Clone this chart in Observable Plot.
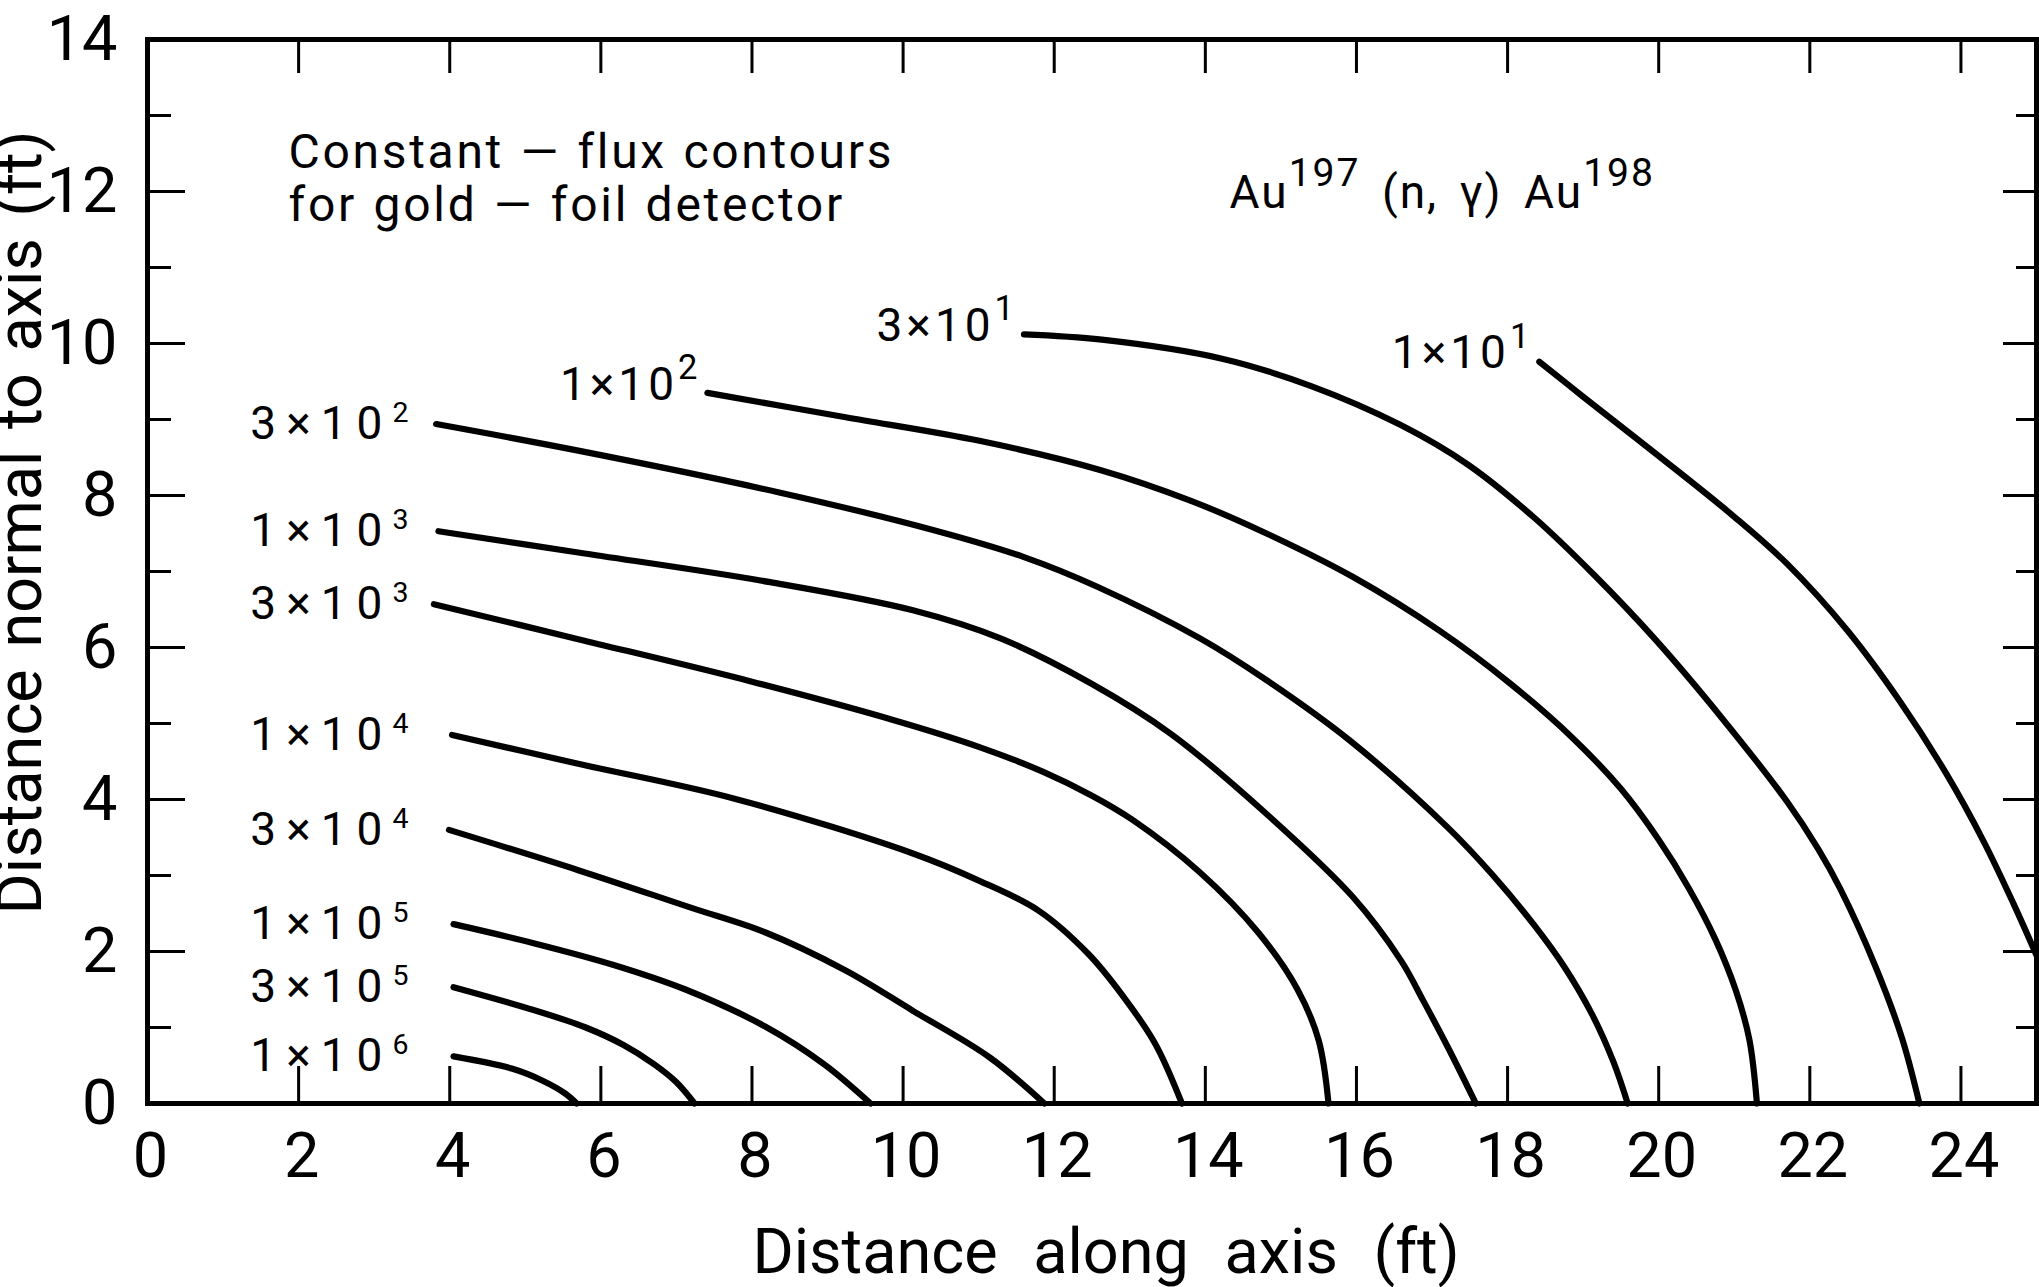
<!DOCTYPE html>
<html>
<head>
<meta charset="utf-8">
<script src="https://cdn.jsdelivr.net/npm/d3@7"></script>
<script src="https://cdn.jsdelivr.net/npm/@observablehq/plot@0.6"></script>
<style>
  html, body { margin: 0; padding: 0; background: #fff; overflow: hidden; }
  #chart svg { display: block; max-width: none; }
</style>
</head>
<body>
<div id="chart"></div>
<script>
// Constant-flux contours, [distance along axis (ft), distance normal to axis (ft)]
const flux_1e1 = [[18.42, 9.76], [19.00, 9.30], [20.00, 8.52], [21.00, 7.72], [21.70, 7.10], [22.50, 6.22],
                  [23.20, 5.28], [23.80, 4.35], [24.30, 3.45], [24.70, 2.62], [25.00, 1.95]];
const flux_3e1 = [[11.60, 10.12], [12.63, 10.05], [14.22, 9.80], [15.40, 9.44], [16.58, 8.93], [17.47, 8.41],
                  [18.35, 7.71], [19.15, 6.95], [19.96, 6.10], [20.83, 5.08], [21.70, 3.97], [22.11, 3.35],
                  [22.40, 2.83], [22.87, 1.80], [23.22, 0.86], [23.45, 0]];
const flux_1e2 = [[7.41, 9.35], [9.24, 9.03], [11.01, 8.72], [12.63, 8.33], [13.81, 7.93], [14.81, 7.50],
                  [15.95, 6.93], [17.10, 6.22], [18.03, 5.53], [18.85, 4.82], [19.50, 4.14], [20.00, 3.47],
                  [20.40, 2.83], [20.75, 2.16], [21.02, 1.49], [21.20, 0.84], [21.30, 0]];
const flux_3e2 = [[3.82, 8.94], [5.70, 8.59], [8.36, 8.04], [10.42, 7.54], [11.60, 7.19], [12.57, 6.80],
                  [13.93, 6.12], [14.81, 5.57], [15.92, 4.77], [17.20, 3.64], [17.80, 3.01], [18.35, 2.35],
                  [18.75, 1.80], [19.12, 1.17], [19.40, 0.55], [19.59, 0]];
const flux_1e3 = [[3.85, 7.53], [5.70, 7.25], [8.24, 6.86], [10.13, 6.49], [11.29, 6.12], [12.50, 5.52],
                  [13.55, 4.86], [14.81, 3.81], [15.95, 2.72], [16.59, 1.88], [16.88, 1.36], [17.22, 0.72],
                  [17.58, 0]];
const flux_3e3 = [[3.79, 6.57], [5.70, 6.11], [8.00, 5.55], [9.89, 5.04], [11.01, 4.69], [11.84, 4.37],
                  [12.50, 4.05], [13.04, 3.73], [13.93, 3.04], [14.70, 2.25], [15.22, 1.50], [15.50, 0.83],
                  [15.63, 0]];
const flux_1e4 = [[4.03, 4.85], [5.70, 4.47], [7.77, 4.01], [10.13, 3.29], [11.01, 2.93], [11.79, 2.54],
                  [12.45, 1.97], [12.92, 1.40], [13.34, 0.78], [13.69, 0]];
const flux_3e4 = [[3.99, 3.60], [5.70, 3.07], [7.18, 2.58], [8.18, 2.25], [9.24, 1.75], [10.13, 1.22],
                  [11.14, 0.61], [11.87, 0]];
const flux_1e5 = [[4.05, 2.36], [5.11, 2.11], [6.18, 1.82], [7.12, 1.50], [8.18, 1.01], [8.95, 0.52], [9.57, 0]];
const flux_3e5 = [[4.05, 1.53], [5.11, 1.23], [5.80, 1.00], [6.30, 0.77], [6.70, 0.52], [7.00, 0.28], [7.24, 0]];
const flux_1e6 = [[4.05, 0.62], [4.82, 0.46], [5.23, 0.30], [5.53, 0.13], [5.68, 0]];

const fluxLevels = [1e1, 3e1, 1e2, 3e2, 1e3, 3e3, 1e4, 3e4, 1e5, 3e5, 1e6];
const contourPoints = [flux_1e1, flux_3e1, flux_1e2, flux_3e2, flux_1e3, flux_3e3,
                       flux_1e4, flux_3e4, flux_1e5, flux_3e5, flux_1e6];

const xTickValues = [0, 2, 4, 6, 8, 10, 12, 14, 16, 18, 20, 22, 24];
const yTickValues = [0, 2, 4, 6, 8, 10, 12, 14];
const yMinorTicks = [1, 3, 5, 7, 9, 11, 13];

const xTitle = "Distance along axis (ft)";
const yTitle = "Distance normal to axis (ft)";
const noteLines = ["Constant — flux contours", "for gold — foil detector"];
const reaction = "Au¹⁹⁷ (n, γ) Au¹⁹⁸";

// Layout
const width = 2039, height = 1287;
const marginLeft = 147, marginRight = 3, marginTop = 39, marginBottom = 184;
const frameW = width - marginLeft - marginRight;
const frameH = height - marginTop - marginBottom;
const FONT = "Roboto, 'Noto Sans', 'DejaVu Sans', sans-serif";

// Superscript helpers
const SUP = "⁰¹²³⁴⁵⁶⁷⁸⁹";
const SUP_RE = /[\u2070\u00B9\u00B2\u00B3\u2074-\u2079]/;
const sup = n => String(n).split("").map(d => SUP[+d]).join("");
function fluxLabel(v) {
  const e = Math.floor(Math.log10(v) + 1e-9);
  const m = Math.round(v / 10 ** e);
  return `${m}×10${sup(e)}`;
}

// Long-format table for the line mark, and the first point of each contour for its label
const rows = [];
fluxLevels.forEach((v, i) => contourPoints[i].forEach(([x, y]) => rows.push({flux: v, x, y})));
const starts = fluxLevels.map((v, i) => ({flux: v, label: fluxLabel(v), x: contourPoints[i][0][0], y: contourPoints[i][0][1]}));
const columnLabels = starts.filter(d => d.x < 5);   // labels stacked in a column at the left
const inlineLabels = starts.filter(d => d.x >= 5);  // labels placed just before the contour start

const chart = Plot.plot({
  width, height, marginLeft, marginRight, marginTop, marginBottom,
  x: {domain: [0, 25], axis: null},
  y: {domain: [0, 14], axis: null},
  style: {fontFamily: FONT, color: "black", background: "white", overflow: "visible"},
  marks: [
    Plot.line(rows, {x: "x", y: "y", z: "flux", curve: "catmull-rom", stroke: "black",
                     strokeWidth: 6.2, strokeLinecap: "round", strokeLinejoin: "round"}),
    Plot.frame({stroke: "black", strokeWidth: 5}),
    // inward ticks on all four sides
    Plot.ruleX(xTickValues.filter(d => d > 0), {x: d => d, stroke: "black", strokeWidth: 3, insetTop: frameH - 37}),
    Plot.ruleX(xTickValues.filter(d => d > 0), {x: d => d, stroke: "black", strokeWidth: 3, insetBottom: frameH - 34}),
    Plot.ruleY(yTickValues.filter(d => d > 0 && d < 14), {y: d => d, stroke: "black", strokeWidth: 3, insetRight: frameW - 38}),
    Plot.ruleY(yMinorTicks, {y: d => d, stroke: "black", strokeWidth: 3, insetRight: frameW - 24}),
    Plot.ruleY(yTickValues.filter(d => d > 0 && d < 14), {y: d => d, stroke: "black", strokeWidth: 3, insetLeft: frameW - 33}),
    Plot.ruleY(yMinorTicks, {y: d => d, stroke: "black", strokeWidth: 3, insetLeft: frameW - 20}),
    // tick labels
    Plot.text(xTickValues, {x: d => d, text: d => String(d), frameAnchor: "bottom", lineAnchor: "top",
                            textAnchor: "middle", dy: 29, dx: 3, fontSize: 63}),
    Plot.text(yTickValues, {y: d => d, text: d => String(d), frameAnchor: "left", textAnchor: "end",
                            dx: -30, fontSize: 63}),
    // axis titles
    Plot.text([xTitle], {frameAnchor: "bottom", textAnchor: "middle", lineAnchor: "middle", dy: 149, dx: 14,
                         fontSize: 63, ariaDescription: "x title"}),
    Plot.text([yTitle], {frameAnchor: "left", textAnchor: "middle", rotate: -90, lineAnchor: "middle",
                         dx: -127, dy: -49, fontSize: 63, ariaDescription: "y title"}),
    // contour labels
    Plot.text(columnLabels, {y: "y", text: "label", frameAnchor: "left", textAnchor: "end", dx: 271,
                             fontSize: 46, ariaDescription: "column labels"}),
    Plot.text(inlineLabels, {x: "x", y: "y", text: "label", textAnchor: "end", dx: -6, dy: -8,
                             fontSize: 46, ariaDescription: "inline labels"}),
    // annotations
    Plot.text([noteLines.join("\n")], {frameAnchor: "top-left", textAnchor: "start", lineAnchor: "bottom",
                                       dx: 141, dy: 181, fontSize: 48, lineHeight: 1.104, ariaDescription: "note"}),
    Plot.text([reaction], {frameAnchor: "top-left", textAnchor: "start", lineAnchor: "bottom",
                           dx: 1082, dy: 168, fontSize: 46, ariaDescription: "reaction"})
  ]
});

document.getElementById("chart").appendChild(chart);

// Typographic touches: spacing and raised exponents
const svg = d3.select(chart);
const group = desc => svg.select(`g[aria-description="${desc}"]`);
group("x title").attr("word-spacing", "20px");
group("y title").attr("word-spacing", "6px");
group("column labels").attr("letter-spacing", "10px");
group("inline labels").attr("letter-spacing", "4px");
group("note").attr("letter-spacing", "2.7px").attr("word-spacing", "2px");
group("reaction").attr("letter-spacing", "2px").attr("word-spacing", "8px");

function liftSuperscripts(g, ratio, raise) {
  g.selectAll("text").each(function () {
    const s = this.textContent;
    if (!SUP_RE.test(s)) return;
    const fs = parseFloat(getComputedStyle(this).fontSize);
    const runs = [];
    for (const ch of s) {
      const isSup = SUP_RE.test(ch);
      const c = isSup ? String(SUP.indexOf(ch)) : ch;
      if (runs.length && runs[runs.length - 1].sup === isSup) runs[runs.length - 1].text += c;
      else runs.push({sup: isSup, text: c});
    }
    this.textContent = "";
    let lifted = false;
    for (const r of runs) {
      const t = document.createElementNS("http://www.w3.org/2000/svg", "tspan");
      t.textContent = r.text;
      if (r.sup) {
        t.setAttribute("font-size", fs * ratio);
        if (!lifted) t.setAttribute("dy", -fs * raise);
        lifted = true;
      } else if (lifted) {
        t.setAttribute("dy", fs * raise);
        lifted = false;
      }
      this.appendChild(t);
    }
  });
}
liftSuperscripts(group("column labels"), 0.62, 0.37);
liftSuperscripts(group("inline labels"), 0.75, 0.45);
liftSuperscripts(group("reaction"), 0.85, 0.46);
</script>
</body>
</html>
